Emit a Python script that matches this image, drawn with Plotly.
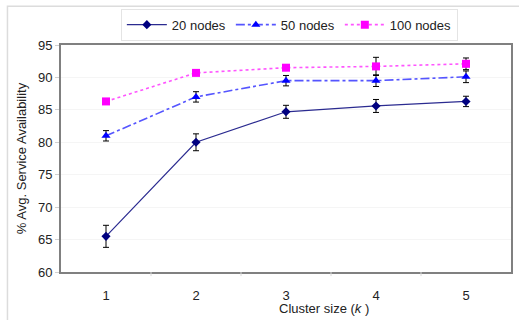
import plotly.graph_objects as go

x_vals = [1, 2, 3, 4, 5]
nodes20 = [65.5, 80.0, 84.7, 85.6, 86.3]
err20 = [1.7, 1.3, 1.0, 1.0, 0.8]
nodes50 = [81.0, 87.0, 89.5, 89.5, 90.1]
err50 = [0.8, 0.8, 0.8, 0.9, 0.9]
nodes100 = [86.3, 90.7, 91.5, 91.7, 92.1]
err100 = [0.3, 0.3, 0.3, 1.4, 0.9]
y_ticks = [60, 65, 70, 75, 80, 85, 90, 95]

FONT = "Liberation Sans, Arial, sans-serif"

fig = go.Figure()

def add(name, ys, es, color, dash, symbol, size, width, lcolor):
    fig.add_trace(go.Scatter(
        x=x_vals, y=ys, name=name, mode="lines+markers",
        line=dict(color=lcolor, dash=dash, width=width),
        marker=dict(color=color, symbol=symbol, size=size),
        error_y=dict(type="data", array=es, color="black", thickness=1, width=3),
    ))

add("20 nodes", nodes20, err20, "#000080", "solid", "diamond", 7, 1.2, "#2b2b90")
add("50 nodes", nodes50, err50, "#0000ff", "dashdot", "triangle-up", 8, 1.6, "#5555ff")
add("100 nodes", nodes100, err100, "#ff00ff", "dot", "square", 8, 1.6, "#ff55ff")

fig.update_layout(
    width=519, height=320,
    margin=dict(l=61, r=6, t=45, b=48),
    paper_bgcolor="white", plot_bgcolor="white",
    font=dict(family=FONT, size=13, color="#222"),
    showlegend=True,
    legend=dict(orientation="h", x=0.133, y=1.16, xanchor="left", yanchor="top",
                bordercolor="#e4e4e4", borderwidth=1, bgcolor="white",
                font=dict(size=13, family=FONT), itemwidth=40, tracegroupgap=0),
    xaxis=dict(range=[0.5, 5.5], tickvals=x_vals, ticktext=[str(v) for v in x_vals],
               showgrid=False, zeroline=False, showline=True, linecolor="#808080",
               linewidth=2, mirror=True, ticks="", tickfont=dict(size=13),
               ticklabelstandoff=10),
    yaxis=dict(range=[60, 95], tickvals=y_ticks, showgrid=True, gridcolor="#f5f5f5",
               zeroline=False, showline=True, linecolor="#808080", linewidth=2,
               mirror=True, ticks="outside", ticklen=4, tickcolor="#d0d0d0",
               tickfont=dict(size=13),
               title=dict(text="% Avg. Service Availability", font=dict(size=13), standoff=8)),
)

for xv in [1.5, 2.5, 3.5, 4.5]:
    fig.add_shape(type="line", xref="x", yref="paper", x0=xv, x1=xv, y0=0, y1=-0.018,
                  line=dict(color="#d8d8d8", width=1))

fig.add_annotation(text="Cluster size (<i>k</i> )", xref="paper", yref="paper",
                   x=0.585, y=-0.12, xanchor="center", yanchor="top",
                   showarrow=False, font=dict(size=13, family=FONT))

fig.add_shape(type="rect", xref="paper", yref="paper", x0=-0.119, x1=1.2, y0=-0.3, y1=1.171,
              line=dict(color="#dcdcdc", width=1.5), layer="above")

fig.write_html("out.html", config={"displayModeBar": False},
               post_script="document.body.style.margin='0';document.body.style.padding='0';")
